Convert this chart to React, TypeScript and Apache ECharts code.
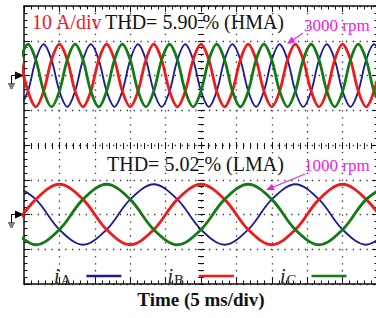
import React, { useEffect, useRef } from 'react';
import * as echarts from 'echarts';

// ---- data (currents in A, time in ms; 10 A/div, 5 ms/div) ----
const timeMin = 0;
const timeMax = 50;
const timeStep = 5;
const topRange = [-60, 20]; // top trace (HMA, 3000 rpm) ground is 2 div above centre
const lowRange = [-20, 60]; // bottom trace (LMA, 1000 rpm) ground is 2 div below centre
const ampStep = 10;

const phaseNames = ['iA', 'iB', 'iC'];
const phaseColors = ['#1b1b94', '#f01a1a', '#147a16'];
const phaseWidths = [1.8, 2.8, 2.8];

// samples every 60 deg of a 150 Hz period (6.67 ms)
const topTimes = [
  -0.56, 0.56, 1.67, 2.78, 3.89, 5.0, 6.11, 7.22, 8.33, 9.44,
  10.56, 11.67, 12.78, 13.89, 15.0, 16.11, 17.22, 18.33, 19.44, 20.56,
  21.67, 22.78, 23.89, 25.0, 26.11, 27.22, 28.33, 29.44, 30.56, 31.67,
  32.78, 33.89, 35.0, 36.11, 37.22, 38.33, 39.44, 40.56, 41.67, 42.78,
  43.89, 45.0, 46.11, 47.22, 48.33, 49.44, 50.56,
];
const topIA = [
  -9, -4.5, 4.5, 9, 4.5, -4.5, -9, -4.5, 4.5, 9, 4.5, -4.5,
  -9, -4.5, 4.5, 9, 4.5, -4.5, -9, -4.5, 4.5, 9, 4.5, -4.5,
  -9, -4.5, 4.5, 9, 4.5, -4.5, -9, -4.5, 4.5, 9, 4.5, -4.5,
  -9, -4.5, 4.5, 9, 4.5, -4.5, -9, -4.5, 4.5, 9, 4.5,
];
const topIB = [
  4.5, -4.5, -9, -4.5, 4.5, 9, 4.5, -4.5, -9, -4.5, 4.5, 9,
  4.5, -4.5, -9, -4.5, 4.5, 9, 4.5, -4.5, -9, -4.5, 4.5, 9,
  4.5, -4.5, -9, -4.5, 4.5, 9, 4.5, -4.5, -9, -4.5, 4.5, 9,
  4.5, -4.5, -9, -4.5, 4.5, 9, 4.5, -4.5, -9, -4.5, 4.5,
];
const topIC = [
  4.5, 9, 4.5, -4.5, -9, -4.5, 4.5, 9, 4.5, -4.5, -9, -4.5,
  4.5, 9, 4.5, -4.5, -9, -4.5, 4.5, 9, 4.5, -4.5, -9, -4.5,
  4.5, 9, 4.5, -4.5, -9, -4.5, 4.5, 9, 4.5, -4.5, -9, -4.5,
  4.5, 9, 4.5, -4.5, -9, -4.5, 4.5, 9, 4.5, -4.5, -9,
];

// samples every 60 deg of a 50 Hz period (20 ms)
const lowTimes = [
  -1.67, 1.67, 5.0, 8.33, 11.67, 15.0, 18.33, 21.67, 25.0,
  28.33, 31.67, 35.0, 38.33, 41.67, 45.0, 48.33, 51.67,
];
const lowIA = [8.7, 4.35, -4.35, -8.7, -4.35, 4.35, 8.7, 4.35, -4.35, -8.7, -4.35, 4.35, 8.7, 4.35, -4.35, -8.7, -4.35];
const lowIB = [-4.35, 4.35, 8.7, 4.35, -4.35, -8.7, -4.35, 4.35, 8.7, 4.35, -4.35, -8.7, -4.35, 4.35, 8.7, 4.35, -4.35];
const lowIC = [-4.35, -8.7, -4.35, 4.35, 8.7, 4.35, -4.35, -8.7, -4.35, 4.35, 8.7, 4.35, -4.35, -8.7, -4.35, 4.35, 8.7];

const scaleLabel = '10 A/div';
const topThd = 'THD= 5.90 % (HMA)';
const lowThd = 'THD= 5.02 % (LMA)';
const topSpeed = '3000 rpm';
const lowSpeed = '1000 rpm';
const xName = 'Time (5 ms/div)';

const SERIF = "'Liberation Serif', 'Times New Roman', serif";

function pairs(t: number[], v: number[]) {
  return t.map((x, i) => [x, v[i]]);
}

function arrow(x1: number, y1: number, x2: number, y2: number, color: string) {
  const dx = x2 - x1;
  const dy = y2 - y1;
  const len = Math.hypot(dx, dy);
  const ux = dx / len;
  const uy = dy / len;
  const hl = 8;
  const hw = 3.5;
  const bx = x2 - ux * hl;
  const by = y2 - uy * hl;
  return [
    { type: 'line', silent: true, shape: { x1, y1, x2: bx, y2: by }, style: { stroke: color, lineWidth: 1.1 } },
    {
      type: 'polygon',
      silent: true,
      shape: { points: [[x2, y2], [bx - uy * hw, by + ux * hw], [bx + uy * hw, by - ux * hw]] },
      style: { fill: color },
    },
  ];
}

function ground(x: number, y: number) {
  return {
    type: 'group',
    x,
    y,
    silent: true,
    children: [
      { type: 'polygon', shape: { points: [[-9, -4], [0, 0], [-9, 4]] }, style: { fill: '#000' } },
      { type: 'polyline', shape: { points: [[-9, 0], [-12.5, 0], [-12.5, 8.5]] }, style: { stroke: '#000', lineWidth: 1, fill: 'none' } },
      { type: 'line', shape: { x1: -16, y1: 8.5, x2: -9, y2: 8.5 }, style: { stroke: '#000', lineWidth: 1 } },
      { type: 'line', shape: { x1: -15, y1: 10.5, x2: -10, y2: 10.5 }, style: { stroke: '#000', lineWidth: 1 } },
      { type: 'line', shape: { x1: -14, y1: 12.5, x2: -11, y2: 12.5 }, style: { stroke: '#000', lineWidth: 1 } },
    ],
  };
}

export default function App() {
  const ref = useRef<HTMLDivElement>(null);

  useEffect(() => {
    if (!ref.current) return;
    const chart = echarts.init(ref.current, null, { renderer: 'svg' });

    const frameLine = { color: '#111', width: 1.5 };
    const tickStyle = { color: '#111', width: 1 };
    const dotted = (gap: number) => ({ color: '#333', width: 1.3, type: [1.3, gap] as any });

    const topSeries = [topIA, topIB, topIC].map((vals, i) => ({
      name: phaseNames[i],
      type: 'line',
      xAxisIndex: 0,
      yAxisIndex: 0,
      data: pairs(topTimes, vals),
      smooth: 0.35,
      showSymbol: false,
      lineStyle: { color: phaseColors[i], width: phaseWidths[i] },
      itemStyle: { color: phaseColors[i] },
      z: 3 + i,
    }));
    const lowSeries = [lowIA, lowIB, lowIC].map((vals, i) => ({
      name: phaseNames[i],
      type: 'line',
      xAxisIndex: 0,
      yAxisIndex: 1,
      data: pairs(lowTimes, vals),
      smooth: 0.35,
      showSymbol: false,
      lineStyle: { color: phaseColors[i], width: phaseWidths[i] },
      itemStyle: { color: phaseColors[i] },
      z: 3 + i,
    }));

    chart.setOption({
      animation: false,
      backgroundColor: '#fff',
      grid: { left: 24, top: 6, width: 354, height: 278, containLabel: false, outerBoundsMode: 'none' },
      xAxis: [
        {
          type: 'value', min: timeMin, max: timeMax, interval: timeStep, position: 'bottom',
          axisLine: { show: true, onZero: false, lineStyle: frameLine },
          axisTick: { show: true, inside: true, length: 6, lineStyle: tickStyle },
          minorTick: { show: true, splitNumber: 5, length: 3.5, lineStyle: tickStyle },
          splitLine: { show: true, lineStyle: dotted(5.65) },
          axisLabel: { show: false },
          name: xName, nameLocation: 'middle', nameGap: 6,
          nameTextStyle: { fontFamily: SERIF, fontWeight: 'bold', fontSize: 19, color: '#111', verticalAlign: 'top' },
        },
        {
          type: 'value', min: timeMin, max: timeMax, interval: timeStep, position: 'top',
          axisLine: { show: true, onZero: false, lineStyle: frameLine },
          axisTick: { show: true, inside: true, length: 6, lineStyle: tickStyle },
          minorTick: { show: true, splitNumber: 5, length: 3.5, lineStyle: tickStyle },
          splitLine: { show: false },
          axisLabel: { show: false },
        },
        {
          type: 'value', min: timeMin, max: timeMax, interval: timeStep, position: 'bottom', offset: -135,
          axisLine: { show: false, onZero: false },
          axisTick: { show: true, inside: true, length: 7, lineStyle: tickStyle },
          minorTick: { show: true, splitNumber: 5, length: 6, lineStyle: tickStyle },
          splitLine: { show: false },
          axisLabel: { show: false },
        },
      ],
      yAxis: [
        {
          type: 'value', min: topRange[0], max: topRange[1], interval: ampStep, position: 'left',
          axisLine: { show: true, onZero: false, lineStyle: frameLine },
          axisTick: { show: true, inside: true, length: 6, lineStyle: tickStyle },
          minorTick: { show: true, splitNumber: 5, length: 3.5, lineStyle: tickStyle },
          splitLine: { show: true, lineStyle: dotted(5.55) },
          axisLabel: { show: false },
        },
        { type: 'value', min: lowRange[0], max: lowRange[1], interval: ampStep, show: false },
        {
          type: 'value', min: topRange[0], max: topRange[1], interval: ampStep, position: 'right',
          axisLine: { show: true, onZero: false, lineStyle: frameLine },
          axisTick: { show: true, inside: true, length: 6, lineStyle: tickStyle },
          minorTick: { show: true, splitNumber: 5, length: 3.5, lineStyle: tickStyle },
          splitLine: { show: false },
          axisLabel: { show: false },
        },
        {
          type: 'value', min: topRange[0], max: topRange[1], interval: ampStep, position: 'left', offset: -174,
          axisLine: { show: false, onZero: false },
          axisTick: { show: true, inside: true, length: 7, lineStyle: tickStyle },
          minorTick: { show: true, splitNumber: 5, length: 6, lineStyle: tickStyle },
          splitLine: { show: false },
          axisLabel: { show: false },
        },
      ],
      legend: {
        data: phaseNames,
        left: 49,
        top: 261,
        align: 'right',
        icon: 'rect',
        itemWidth: 35,
        itemHeight: 2.5,
        itemGap: 46,
        selectedMode: false,
        formatter: (n: string) => `{i|i}{s|${n.slice(1)}}`,
        textStyle: {
          rich: {
            i: { fontFamily: SERIF, fontStyle: 'italic', fontSize: 20, color: '#222' },
            s: { fontFamily: SERIF, fontSize: 15, color: '#222', padding: [8, 10, 0, 1] },
          },
        },
      },
      series: [...topSeries, ...lowSeries],
    });

    const x0 = chart.convertToPixel({ xAxisIndex: 0 }, timeMin) as number;
    const yTop0 = chart.convertToPixel({ yAxisIndex: 0 }, 0) as number;
    const yLow0 = chart.convertToPixel({ yAxisIndex: 1 }, 0) as number;

    const txt = (text: string, x: number, y: number, size: number, color: string) => ({
      type: 'text',
      silent: true,
      x,
      y,
      z: 20,
      style: { text, fill: color, fontFamily: SERIF, fontSize: size, verticalAlign: 'middle', align: 'left' },
    });

    chart.setOption({
      graphic: [
        ground(x0, yTop0),
        ground(x0, yLow0),
        txt(scaleLabel, 32, 22, 20, '#e8202a'),
        txt(topThd, 105, 22, 20, '#111'),
        txt(lowThd, 107, 164, 20, '#111'),
        txt(topSpeed, 304, 25, 17, '#e624e6'),
        txt(lowSpeed, 304, 165, 17, '#e624e6'),
        ...arrow(303, 33, 287, 44, '#e624e6'),
        ...arrow(305, 174, 266, 190, '#e624e6'),
      ],
    });

    return () => chart.dispose();
  }, []);

  return (
    <div
      ref={ref}
      style={{ position: 'fixed', left: 0, top: 0, width: 376, height: 318, background: '#fff' }}
    />
  );
}
